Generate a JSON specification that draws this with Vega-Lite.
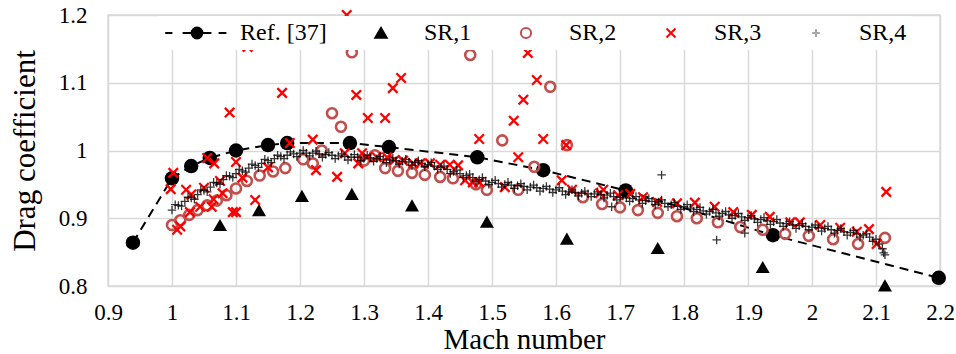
{
  "$schema": "https://vega.github.io/schema/vega-lite/v6.json",
  "width": 832,
  "height": 271,
  "autosize": {"type": "none"},
  "padding": {"left": 108, "top": 15, "right": 16, "bottom": 68},
  "background": "white",
  "config": {
    "view": {"stroke": "#D9D9D9", "strokeWidth": 1.5},
    "font": "Liberation Serif",
    "axis": {
      "gridColor": "#D9D9D9", "gridWidth": 1.5, "domain": false, "ticks": false, "tickSize": 0,
      "labelFont": "Liberation Serif", "labelColor": "black", "labelFontSize": 23,
      "titleFont": "Liberation Serif", "titleFontWeight": "normal", "titleColor": "black", "titleFontSize": 31
    },
    "legend": {
      "orient": "none", "legendX": 50, "legendY": 1, "direction": "horizontal", "columns": 5,
      "padding": 5, "fillColor": "white", "labelFont": "Liberation Serif", "labelFontSize": 24, "labelColor": "black",
      "symbolOffset": 22, "labelOffset": 31, "columnPadding": 20, "symbolSize": 144, "symbolStrokeWidth": 2, "symbolOpacity": 1, "labelLimit": 300
    }
  },
  "datasets": {
    "ref": [
      {"M": 0.939, "Cd": 0.864}, {"M": 1.0, "Cd": 0.959}, {"M": 1.03, "Cd": 0.977}, {"M": 1.059, "Cd": 0.989},
      {"M": 1.1, "Cd": 1.0}, {"M": 1.15, "Cd": 1.008}, {"M": 1.18, "Cd": 1.011}, {"M": 1.278, "Cd": 1.011},
      {"M": 1.339, "Cd": 1.005}, {"M": 1.477, "Cd": 0.99}, {"M": 1.58, "Cd": 0.971}, {"M": 1.709, "Cd": 0.941},
      {"M": 1.939, "Cd": 0.875}, {"M": 2.198, "Cd": 0.812}
    ],
    "sr1": [
      {"M": 1.075, "Cd": 0.89}, {"M": 1.136, "Cd": 0.912}, {"M": 1.203, "Cd": 0.933}, {"M": 1.281, "Cd": 0.936},
      {"M": 1.375, "Cd": 0.919}, {"M": 1.492, "Cd": 0.895}, {"M": 1.617, "Cd": 0.87}, {"M": 1.759, "Cd": 0.856},
      {"M": 1.923, "Cd": 0.828}, {"M": 2.114, "Cd": 0.801}
    ],
    "sr2": [
      {"M": 1.0, "Cd": 0.89}, {"M": 1.013, "Cd": 0.897}, {"M": 1.027, "Cd": 0.905}, {"M": 1.04, "Cd": 0.912},
      {"M": 1.055, "Cd": 0.919}, {"M": 1.07, "Cd": 0.926}, {"M": 1.085, "Cd": 0.934}, {"M": 1.1, "Cd": 0.944},
      {"M": 1.117, "Cd": 0.955}, {"M": 1.137, "Cd": 0.963}, {"M": 1.158, "Cd": 0.969}, {"M": 1.177, "Cd": 0.974},
      {"M": 1.205, "Cd": 0.987}, {"M": 1.22, "Cd": 0.981}, {"M": 1.234, "Cd": 1.0}, {"M": 1.25, "Cd": 1.055},
      {"M": 1.264, "Cd": 1.035}, {"M": 1.281, "Cd": 1.145}, {"M": 1.3, "Cd": 0.985}, {"M": 1.317, "Cd": 0.993},
      {"M": 1.333, "Cd": 0.974}, {"M": 1.353, "Cd": 0.97}, {"M": 1.375, "Cd": 0.967}, {"M": 1.395, "Cd": 0.964},
      {"M": 1.419, "Cd": 0.961}, {"M": 1.439, "Cd": 0.959}, {"M": 1.466, "Cd": 1.141}, {"M": 1.475, "Cd": 0.95},
      {"M": 1.492, "Cd": 0.942}, {"M": 1.516, "Cd": 1.015}, {"M": 1.541, "Cd": 0.942}, {"M": 1.566, "Cd": 0.976},
      {"M": 1.591, "Cd": 1.094}, {"M": 1.617, "Cd": 1.008}, {"M": 1.642, "Cd": 0.931}, {"M": 1.672, "Cd": 0.921},
      {"M": 1.7, "Cd": 0.916}, {"M": 1.728, "Cd": 0.912}, {"M": 1.759, "Cd": 0.908}, {"M": 1.789, "Cd": 0.903},
      {"M": 1.82, "Cd": 0.9}, {"M": 1.853, "Cd": 0.894}, {"M": 1.888, "Cd": 0.887}, {"M": 1.923, "Cd": 0.883},
      {"M": 1.958, "Cd": 0.877}, {"M": 1.995, "Cd": 0.874}, {"M": 2.033, "Cd": 0.869}, {"M": 2.072, "Cd": 0.862},
      {"M": 2.114, "Cd": 0.871}
    ],
    "sr3": [
      {"M": 0.998, "Cd": 0.943}, {"M": 1.002, "Cd": 0.967}, {"M": 1.008, "Cd": 0.883}, {"M": 1.013, "Cd": 0.888},
      {"M": 1.022, "Cd": 0.942}, {"M": 1.028, "Cd": 0.909}, {"M": 1.03, "Cd": 0.935}, {"M": 1.044, "Cd": 0.917},
      {"M": 1.05, "Cd": 0.945}, {"M": 1.055, "Cd": 0.989}, {"M": 1.062, "Cd": 0.917}, {"M": 1.065, "Cd": 0.928},
      {"M": 1.066, "Cd": 0.981}, {"M": 1.075, "Cd": 0.955}, {"M": 1.079, "Cd": 0.937}, {"M": 1.09, "Cd": 1.056},
      {"M": 1.095, "Cd": 0.909}, {"M": 1.1, "Cd": 0.909}, {"M": 1.1, "Cd": 0.983}, {"M": 1.11, "Cd": 0.96},
      {"M": 1.118, "Cd": 1.153}, {"M": 1.13, "Cd": 0.927}, {"M": 1.15, "Cd": 0.975}, {"M": 1.172, "Cd": 1.085},
      {"M": 1.184, "Cd": 1.011}, {"M": 1.22, "Cd": 1.016}, {"M": 1.225, "Cd": 0.971}, {"M": 1.258, "Cd": 0.961},
      {"M": 1.27, "Cd": 0.996}, {"M": 1.273, "Cd": 1.2}, {"M": 1.288, "Cd": 1.082}, {"M": 1.291, "Cd": 0.981},
      {"M": 1.297, "Cd": 0.996}, {"M": 1.305, "Cd": 0.99}, {"M": 1.306, "Cd": 1.048}, {"M": 1.32, "Cd": 0.99},
      {"M": 1.333, "Cd": 1.048}, {"M": 1.336, "Cd": 0.99}, {"M": 1.345, "Cd": 1.092}, {"M": 1.348, "Cd": 0.986},
      {"M": 1.358, "Cd": 1.107}, {"M": 1.361, "Cd": 0.985}, {"M": 1.377, "Cd": 0.981}, {"M": 1.388, "Cd": 0.981},
      {"M": 1.403, "Cd": 0.981}, {"M": 1.419, "Cd": 0.979}, {"M": 1.434, "Cd": 0.979}, {"M": 1.447, "Cd": 0.978},
      {"M": 1.458, "Cd": 0.956}, {"M": 1.47, "Cd": 0.953}, {"M": 1.48, "Cd": 1.017}, {"M": 1.48, "Cd": 0.953},
      {"M": 1.52, "Cd": 0.946}, {"M": 1.534, "Cd": 1.044}, {"M": 1.541, "Cd": 0.99}, {"M": 1.549, "Cd": 1.075},
      {"M": 1.556, "Cd": 1.144}, {"M": 1.57, "Cd": 1.104}, {"M": 1.58, "Cd": 1.017}, {"M": 1.609, "Cd": 0.956},
      {"M": 1.616, "Cd": 1.008}, {"M": 1.625, "Cd": 0.942}, {"M": 1.669, "Cd": 0.937}, {"M": 1.674, "Cd": 0.942},
      {"M": 1.697, "Cd": 0.934}, {"M": 1.716, "Cd": 0.936}, {"M": 1.736, "Cd": 0.931}, {"M": 1.758, "Cd": 0.924},
      {"M": 1.789, "Cd": 0.922}, {"M": 1.817, "Cd": 0.923}, {"M": 1.848, "Cd": 0.917}, {"M": 1.877, "Cd": 0.909},
      {"M": 1.906, "Cd": 0.905}, {"M": 1.934, "Cd": 0.902}, {"M": 1.966, "Cd": 0.894}, {"M": 1.981, "Cd": 0.894},
      {"M": 2.013, "Cd": 0.89}, {"M": 2.044, "Cd": 0.886}, {"M": 2.07, "Cd": 0.88}, {"M": 2.089, "Cd": 0.884},
      {"M": 2.101, "Cd": 0.862}, {"M": 2.116, "Cd": 0.939}
    ],
    "sr4": [
      {"M": 1.0, "Cd": 0.912}, {"M": 1.01, "Cd": 0.919}, {"M": 1.02, "Cd": 0.925}, {"M": 1.03, "Cd": 0.93},
      {"M": 1.04, "Cd": 0.935}, {"M": 1.05, "Cd": 0.941}, {"M": 1.06, "Cd": 0.946}, {"M": 1.07, "Cd": 0.952},
      {"M": 1.08, "Cd": 0.957}, {"M": 1.09, "Cd": 0.962}, {"M": 1.1, "Cd": 0.966}, {"M": 1.11, "Cd": 0.97},
      {"M": 1.12, "Cd": 0.974}, {"M": 1.13, "Cd": 0.978}, {"M": 1.14, "Cd": 0.981}, {"M": 1.15, "Cd": 0.985},
      {"M": 1.16, "Cd": 0.988}, {"M": 1.17, "Cd": 0.991}, {"M": 1.18, "Cd": 0.993}, {"M": 1.19, "Cd": 0.995},
      {"M": 1.2, "Cd": 0.996}, {"M": 1.21, "Cd": 0.996}, {"M": 1.22, "Cd": 0.996}, {"M": 1.23, "Cd": 0.995},
      {"M": 1.24, "Cd": 0.994}, {"M": 1.25, "Cd": 0.993}, {"M": 1.26, "Cd": 0.992}, {"M": 1.27, "Cd": 0.991},
      {"M": 1.28, "Cd": 0.99}, {"M": 1.29, "Cd": 0.99}, {"M": 1.3, "Cd": 0.989}, {"M": 1.31, "Cd": 0.989},
      {"M": 1.32, "Cd": 0.988}, {"M": 1.33, "Cd": 0.987}, {"M": 1.34, "Cd": 0.986}, {"M": 1.35, "Cd": 0.985},
      {"M": 1.36, "Cd": 0.984}, {"M": 1.37, "Cd": 0.983}, {"M": 1.38, "Cd": 0.982}, {"M": 1.39, "Cd": 0.981},
      {"M": 1.4, "Cd": 0.979}, {"M": 1.41, "Cd": 0.977}, {"M": 1.42, "Cd": 0.975}, {"M": 1.43, "Cd": 0.972},
      {"M": 1.44, "Cd": 0.969}, {"M": 1.45, "Cd": 0.966}, {"M": 1.46, "Cd": 0.963}, {"M": 1.47, "Cd": 0.96},
      {"M": 1.48, "Cd": 0.957}, {"M": 1.49, "Cd": 0.955}, {"M": 1.5, "Cd": 0.953}, {"M": 1.51, "Cd": 0.951},
      {"M": 1.52, "Cd": 0.95}, {"M": 1.53, "Cd": 0.949}, {"M": 1.54, "Cd": 0.948}, {"M": 1.55, "Cd": 0.947},
      {"M": 1.56, "Cd": 0.946}, {"M": 1.57, "Cd": 0.945}, {"M": 1.58, "Cd": 0.944}, {"M": 1.59, "Cd": 0.943},
      {"M": 1.6, "Cd": 0.942}, {"M": 1.61, "Cd": 0.94}, {"M": 1.62, "Cd": 0.939}, {"M": 1.63, "Cd": 0.938},
      {"M": 1.64, "Cd": 0.937}, {"M": 1.65, "Cd": 0.936}, {"M": 1.66, "Cd": 0.936}, {"M": 1.67, "Cd": 0.935},
      {"M": 1.68, "Cd": 0.934}, {"M": 1.69, "Cd": 0.932}, {"M": 1.7, "Cd": 0.931}, {"M": 1.71, "Cd": 0.93},
      {"M": 1.72, "Cd": 0.929}, {"M": 1.73, "Cd": 0.927}, {"M": 1.74, "Cd": 0.926}, {"M": 1.75, "Cd": 0.925},
      {"M": 1.76, "Cd": 0.924}, {"M": 1.77, "Cd": 0.922}, {"M": 1.78, "Cd": 0.92}, {"M": 1.79, "Cd": 0.918},
      {"M": 1.8, "Cd": 0.917}, {"M": 1.81, "Cd": 0.915}, {"M": 1.82, "Cd": 0.913}, {"M": 1.83, "Cd": 0.911},
      {"M": 1.84, "Cd": 0.91}, {"M": 1.85, "Cd": 0.908}, {"M": 1.86, "Cd": 0.907}, {"M": 1.87, "Cd": 0.905},
      {"M": 1.88, "Cd": 0.904}, {"M": 1.89, "Cd": 0.902}, {"M": 1.9, "Cd": 0.901}, {"M": 1.91, "Cd": 0.899},
      {"M": 1.92, "Cd": 0.898}, {"M": 1.93, "Cd": 0.896}, {"M": 1.94, "Cd": 0.895}, {"M": 1.95, "Cd": 0.893},
      {"M": 1.96, "Cd": 0.892}, {"M": 1.97, "Cd": 0.89}, {"M": 1.98, "Cd": 0.889}, {"M": 1.99, "Cd": 0.888},
      {"M": 2.0, "Cd": 0.887}, {"M": 2.01, "Cd": 0.886}, {"M": 2.02, "Cd": 0.885}, {"M": 2.03, "Cd": 0.883},
      {"M": 2.04, "Cd": 0.882}, {"M": 2.05, "Cd": 0.88}, {"M": 2.06, "Cd": 0.879}, {"M": 2.07, "Cd": 0.877},
      {"M": 2.08, "Cd": 0.875}, {"M": 2.09, "Cd": 0.872}, {"M": 2.1, "Cd": 0.869}, {"M": 2.105, "Cd": 0.862},
      {"M": 2.11, "Cd": 0.855}, {"M": 2.112, "Cd": 0.849},
      {"M": 1.005, "Cd": 0.92}, {"M": 1.015, "Cd": 0.918}, {"M": 1.025, "Cd": 0.931}, {"M": 1.035, "Cd": 0.928},
      {"M": 1.045, "Cd": 0.942}, {"M": 1.055, "Cd": 0.939}, {"M": 1.065, "Cd": 0.953}, {"M": 1.075, "Cd": 0.95},
      {"M": 1.085, "Cd": 0.963}, {"M": 1.095, "Cd": 0.96}, {"M": 1.105, "Cd": 0.972}, {"M": 1.115, "Cd": 0.968},
      {"M": 1.125, "Cd": 0.98}, {"M": 1.135, "Cd": 0.975}, {"M": 1.145, "Cd": 0.987}, {"M": 1.155, "Cd": 0.982},
      {"M": 1.165, "Cd": 0.993}, {"M": 1.175, "Cd": 0.988}, {"M": 1.185, "Cd": 0.998}, {"M": 1.195, "Cd": 0.991},
      {"M": 1.205, "Cd": 1.0}, {"M": 1.215, "Cd": 0.992}, {"M": 1.225, "Cd": 0.999}, {"M": 1.235, "Cd": 0.99},
      {"M": 1.245, "Cd": 0.997}, {"M": 1.255, "Cd": 0.988}, {"M": 1.265, "Cd": 0.995}, {"M": 1.275, "Cd": 0.986},
      {"M": 1.285, "Cd": 0.994}, {"M": 1.295, "Cd": 0.985}, {"M": 1.305, "Cd": 0.993}, {"M": 1.315, "Cd": 0.984},
      {"M": 1.325, "Cd": 0.991}, {"M": 1.335, "Cd": 0.982}, {"M": 1.345, "Cd": 0.989}, {"M": 1.355, "Cd": 0.98},
      {"M": 1.365, "Cd": 0.987}, {"M": 1.375, "Cd": 0.978}, {"M": 1.385, "Cd": 0.985}, {"M": 1.395, "Cd": 0.976},
      {"M": 1.405, "Cd": 0.982}, {"M": 1.415, "Cd": 0.972}, {"M": 1.425, "Cd": 0.977}, {"M": 1.435, "Cd": 0.966},
      {"M": 1.445, "Cd": 0.971}, {"M": 1.455, "Cd": 0.96}, {"M": 1.465, "Cd": 0.965}, {"M": 1.475, "Cd": 0.954},
      {"M": 1.485, "Cd": 0.96}, {"M": 1.495, "Cd": 0.95}, {"M": 1.505, "Cd": 0.956}, {"M": 1.515, "Cd": 0.946},
      {"M": 1.525, "Cd": 0.953}, {"M": 1.535, "Cd": 0.944}, {"M": 1.545, "Cd": 0.951}, {"M": 1.555, "Cd": 0.942},
      {"M": 1.565, "Cd": 0.949}, {"M": 1.575, "Cd": 0.94}, {"M": 1.585, "Cd": 0.947}, {"M": 1.595, "Cd": 0.938},
      {"M": 1.605, "Cd": 0.945}, {"M": 1.615, "Cd": 0.935}, {"M": 1.625, "Cd": 0.942}, {"M": 1.635, "Cd": 0.933},
      {"M": 1.645, "Cd": 0.94}, {"M": 1.655, "Cd": 0.932}, {"M": 1.665, "Cd": 0.939}, {"M": 1.675, "Cd": 0.93},
      {"M": 1.685, "Cd": 0.937}, {"M": 1.695, "Cd": 0.927}, {"M": 1.705, "Cd": 0.934}, {"M": 1.715, "Cd": 0.925},
      {"M": 1.725, "Cd": 0.932}, {"M": 1.735, "Cd": 0.922}, {"M": 1.745, "Cd": 0.929}, {"M": 1.755, "Cd": 0.92},
      {"M": 1.765, "Cd": 0.927}, {"M": 1.775, "Cd": 0.917}, {"M": 1.785, "Cd": 0.923}, {"M": 1.795, "Cd": 0.913},
      {"M": 1.805, "Cd": 0.92}, {"M": 1.815, "Cd": 0.91}, {"M": 1.825, "Cd": 0.916}, {"M": 1.835, "Cd": 0.906},
      {"M": 1.845, "Cd": 0.913}, {"M": 1.855, "Cd": 0.903}, {"M": 1.865, "Cd": 0.91}, {"M": 1.875, "Cd": 0.9},
      {"M": 1.885, "Cd": 0.907}, {"M": 1.895, "Cd": 0.897}, {"M": 1.905, "Cd": 0.904}, {"M": 1.915, "Cd": 0.894},
      {"M": 1.925, "Cd": 0.901}, {"M": 1.935, "Cd": 0.891}, {"M": 1.945, "Cd": 0.898}, {"M": 1.955, "Cd": 0.888},
      {"M": 1.965, "Cd": 0.895}, {"M": 1.975, "Cd": 0.885}, {"M": 1.985, "Cd": 0.892}, {"M": 1.995, "Cd": 0.883},
      {"M": 2.005, "Cd": 0.89}, {"M": 2.015, "Cd": 0.881}, {"M": 2.025, "Cd": 0.888}, {"M": 2.035, "Cd": 0.878},
      {"M": 2.045, "Cd": 0.885}, {"M": 2.055, "Cd": 0.875}, {"M": 2.065, "Cd": 0.882}, {"M": 2.075, "Cd": 0.872},
      {"M": 2.085, "Cd": 0.877}, {"M": 2.095, "Cd": 0.866},
      {"M": 1.765, "Cd": 0.964}, {"M": 1.687, "Cd": 0.917}, {"M": 1.851, "Cd": 0.868}, {"M": 1.895, "Cd": 0.878},
      {"M": 2.114, "Cd": 0.846}
    ]
  },
  "encoding": {
    "x": {
      "field": "M", "type": "quantitative",
      "scale": {"domain": [0.9, 2.2], "nice": false, "zero": false},
      "axis": {"title": "Mach number", "values": [0.9, 1, 1.1, 1.2, 1.3, 1.4, 1.5, 1.6, 1.7, 1.8, 1.9, 2, 2.1, 2.2], "format": "~g",
        "labelFont": "Liberation Serif", "labelFontSize": 23, "titleFont": "Liberation Serif", "titleFontSize": 29,
        "labelPadding": 15, "titlePadding": 1, "labelFlush": false}
    },
    "y": {
      "field": "Cd", "type": "quantitative",
      "scale": {"domain": [0.8, 1.2], "nice": false, "zero": false},
      "axis": {"title": "Drag coefficient", "values": [0.8, 0.9, 1, 1.1, 1.2], "format": "~g",
        "labelFont": "Liberation Serif", "labelFontSize": 23, "titleFont": "Liberation Serif", "titleFontSize": 31,
        "labelPadding": 21, "titlePadding": 17, "labelFlush": false}
    }
  },
  "layer": [
    {
      "data": {"name": "ref"},
      "mark": {"type": "line", "color": "black", "strokeWidth": 2, "strokeDash": [9, 6]}
    },
    {
      "data": {"name": "ref"},
      "mark": {"type": "point", "shape": "circle", "filled": true, "color": "black", "size": 210, "opacity": 1}
    },
    {
      "data": {"name": "sr1"},
      "mark": {"type": "point", "shape": "triangle-up", "filled": true, "color": "black", "size": 196, "opacity": 1}
    },
    {
      "data": {"name": "sr2"},
      "mark": {"type": "point", "shape": "circle", "filled": false, "color": "#C0504D", "strokeWidth": 2.6, "size": 100, "opacity": 1}
    },
    {
      "data": {"name": "sr3"},
      "mark": {"type": "point", "shape": "M-1,-1L1,1M-1,1L1,-1", "filled": false, "color": "#FF0000", "strokeWidth": 2.3, "size": 90, "opacity": 1}
    },
    {
      "data": {"name": "sr4"},
      "mark": {"type": "point", "shape": "M-1,0H1M0,-1V1", "filled": false, "color": "#000000", "strokeWidth": 1.3, "size": 72, "opacity": 0.78}
    },
    {
      "data": {"name": "ref"},
      "mark": {"type": "point", "filled": true, "opacity": 0},
      "encoding": {
        "shape": {
          "datum": "Ref. [37]", "type": "nominal",
          "scale": {"domain": ["Ref. [37]", "SR,1", "SR,2", "SR,3", "SR,4"],
            "range": [
              "M-5.3,0H-4.1M-2.4,0H2.4M3.6,0H4.9M-0.9,0A0.9,0.9,0,1,1,0.9,0A0.9,0.9,0,1,1,-0.9,0Z",
              "M0,-0.85L0.95,0.8L-0.95,0.8Z",
              "M-0.85,0A0.85,0.85,0,1,1,0.85,0A0.85,0.85,0,1,1,-0.85,0Z",
              "M-0.75,-0.75L0.75,0.75M-0.75,0.75L0.75,-0.75",
              "M-0.65,0H0.65M0,-0.65V0.65"
            ]},
          "legend": {"title": null, "orient": "none", "legendX": 50, "legendY": 1, "direction": "horizontal", "columns": 5}
        },
        "fill": {
          "datum": "Ref. [37]", "type": "nominal",
          "scale": {"domain": ["Ref. [37]", "SR,1", "SR,2", "SR,3", "SR,4"], "range": ["black", "black", "transparent", "transparent", "transparent"]},
          "legend": {"title": null, "orient": "none", "legendX": 50, "legendY": 1, "direction": "horizontal", "columns": 5}
        },
        "stroke": {
          "datum": "Ref. [37]", "type": "nominal",
          "scale": {"domain": ["Ref. [37]", "SR,1", "SR,2", "SR,3", "SR,4"], "range": ["black", "black", "#C0504D", "#FF0000", "#A6A6A6"]},
          "legend": {"title": null, "orient": "none", "legendX": 50, "legendY": 1, "direction": "horizontal", "columns": 5}
        }
      }
    }
  ]
}
